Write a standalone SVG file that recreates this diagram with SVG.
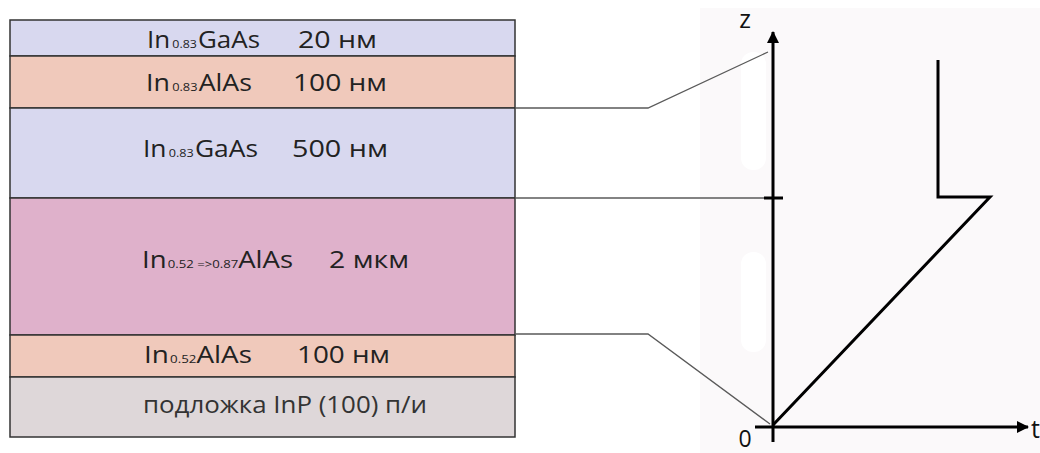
<svg xmlns="http://www.w3.org/2000/svg" width="1040" height="453" viewBox="0 0 1040 453">
<style>
.layer{stroke:#333;stroke-width:1.5}
.lbl{font-family:"Open Sans","Noto Sans","DejaVu Sans",sans-serif;font-size:23px;fill:#222}
.sub{font-size:11px}
.conn{fill:none;stroke:#5a5a5a;stroke-width:1.3}
.axis{fill:none;stroke:#000;stroke-width:3}
.ax{font-family:"Open Sans","Noto Sans",sans-serif;font-size:25px;fill:#111}
</style>
<defs>
<marker id="arr" viewBox="0 0 12 12" refX="11" refY="6" markerWidth="12" markerHeight="12" markerUnits="userSpaceOnUse" orient="auto">
<path d="M0,0 L12,6 L0,12 Z" fill="#000"/>
</marker>
</defs>
<rect x="0" y="0" width="1040" height="453" fill="#fff"/>
<rect x="700" y="8" width="340" height="445" fill="#fbf9fa"/>
<rect x="741" y="52" width="25" height="118" rx="12" fill="#fff"/>
<rect x="741" y="252" width="25" height="100" rx="12" fill="#fff"/>

<g id="layer1">
<rect class="layer" x="10" y="20" width="505" height="36" fill="#d8d8ef"/>
<text class="lbl" x="147" y="48" textLength="113" lengthAdjust="spacingAndGlyphs">In<tspan class="sub" dx="2">0.83</tspan><tspan dx="1">GaAs</tspan></text>
<text class="lbl" x="298" y="48" textLength="79" lengthAdjust="spacingAndGlyphs">20 нм</text>
</g>
<g id="layer2">
<rect class="layer" x="10" y="56" width="505" height="52" fill="#f0c9bb"/>
<text class="lbl" x="146" y="91" textLength="106" lengthAdjust="spacingAndGlyphs">In<tspan class="sub" dx="2">0.83</tspan><tspan dx="1">AlAs</tspan></text>
<text class="lbl" x="293" y="91" textLength="94" lengthAdjust="spacingAndGlyphs">100 нм</text>
</g>
<g id="layer3">
<rect class="layer" x="10" y="108" width="505" height="90" fill="#d8d8ef"/>
<text class="lbl" x="143" y="157" textLength="115" lengthAdjust="spacingAndGlyphs">In<tspan class="sub" dx="2">0.83</tspan><tspan dx="1">GaAs</tspan></text>
<text class="lbl" x="292" y="157" textLength="96" lengthAdjust="spacingAndGlyphs">500 нм</text>
</g>
<g id="layer4">
<rect class="layer" x="10" y="198" width="505" height="137" fill="#dfb1cb"/>
<text class="lbl" x="142" y="268" textLength="151" lengthAdjust="spacingAndGlyphs">In<tspan class="sub" dx="1">0.52 =&gt;0.87</tspan>AlAs</text>
<text class="lbl" x="329" y="268" textLength="80" lengthAdjust="spacingAndGlyphs">2 мкм</text>
</g>
<g id="layer5">
<rect class="layer" x="10" y="335" width="505" height="42" fill="#f0c9bb"/>
<text class="lbl" x="144" y="363" textLength="108" lengthAdjust="spacingAndGlyphs">In<tspan class="sub" dx="1">0.52</tspan>AlAs</text>
<text class="lbl" x="297" y="363" textLength="93" lengthAdjust="spacingAndGlyphs">100 нм</text>
</g>
<g id="layer6">
<rect class="layer" x="10" y="377" width="505" height="60" fill="#ded7d9"/>
<text class="lbl" x="143" y="413" textLength="284" lengthAdjust="spacingAndGlyphs" style="fill:#333">подложка InP (100)  п/и</text>
</g>

<g id="connectors">
<polyline class="conn" points="515,108 648,108 768,52"/>
<polyline class="conn" points="515,198 775,198"/>
<polyline class="conn" points="515,334 648,334 770,424"/>
</g>

<g id="axes">
<line class="axis" x1="773" y1="442" x2="773" y2="32" marker-end="url(#arr)"/>
<line class="axis" x1="755" y1="427" x2="1028" y2="427" marker-end="url(#arr)"/>
<line class="axis" x1="764" y1="198" x2="783" y2="198"/>
<text class="ax" x="745" y="28" text-anchor="middle">z</text>
<text class="ax" x="745" y="447" text-anchor="middle" style="font-size:23px">0</text>
<text class="ax" x="1031" y="438">t</text>
</g>

<g id="profile">
<polyline class="axis" points="773,425 990,197 938,197 938,60" stroke-linejoin="miter"/>
</g>
</svg>
